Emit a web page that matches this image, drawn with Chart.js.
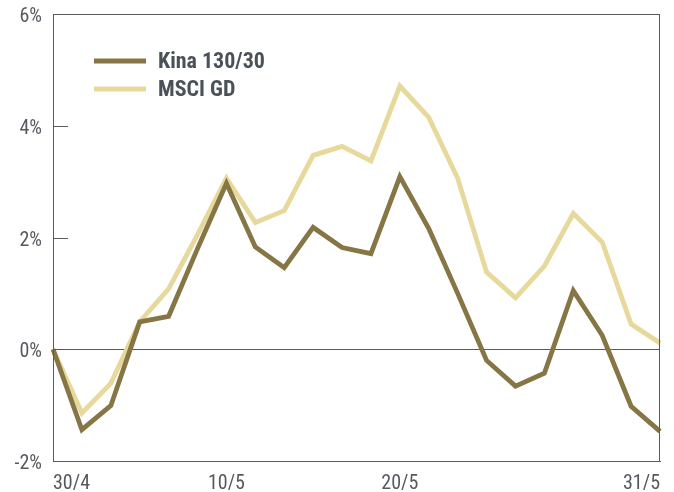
<!DOCTYPE html>
<html>
<head>
<meta charset="utf-8">
<script src="https://cdn.jsdelivr.net/npm/chart.js@4/dist/chart.umd.min.js"></script>
<style>
  html, body { margin: 0; padding: 0; background: #fff; }
  #wrap { width: 674px; height: 492px; }
</style>
</head>
<body>
<div id="wrap"><canvas id="chart" width="674" height="492"></canvas></div>
<script>
const dates = ['30/4', '3/5', '4/5', '5/5', '6/5', '7/5', '10/5', '11/5', '12/5', '13/5', '14/5',
               '17/5', '20/5', '21/5', '24/5', '25/5', '26/5', '27/5', '28/5', '29/5', '30/5', '31/5'];
const shownDates = ['30/4', '10/5', '20/5', '31/5'];
const kina = [0, -1.44, -1.01, 0.49, 0.59, 1.8, 2.97, 1.83, 1.46, 2.18, 1.82, 1.71,
              3.09, 2.16, 1.0, -0.2, -0.66, -0.43, 1.05, 0.25, -1.02, -1.47];
const msci = [0, -1.14, -0.61, 0.49, 1.08, 2.05, 3.06, 2.27, 2.48, 3.47, 3.63, 3.37,
              4.71, 4.15, 3.06, 1.38, 0.92, 1.49, 2.43, 1.92, 0.45, 0.11];
const yTicks = [-2, 0, 2, 4, 6];

const darkColor = '#877645';
const lightColor = '#e7d99b';
const axisColor = '#5a5a5a';
const labelFont = "'Roboto Condensed', sans-serif";

// frame, short inner tick marks and legend inside the plot
const extras = {
    id: 'extras',
    afterDraw(chart) {
        const ctx = chart.ctx;
        const area = chart.chartArea;
        const y = chart.scales.y;
        ctx.save();
        ctx.strokeStyle = axisColor;
        ctx.lineWidth = 1;
        ctx.strokeRect(area.left + 0.5, area.top + 0.5, area.right - area.left - 1, area.bottom - area.top);
        yTicks.forEach(v => {
            const py = Math.round(y.getPixelForValue(v)) + 0.5;
            ctx.beginPath();
            ctx.moveTo(area.left, py);
            ctx.lineTo(area.left + 15, py);
            ctx.stroke();
        });
        chart.data.datasets.forEach((ds, i) => {
            const ly = 61 + i * 28;
            ctx.strokeStyle = ds.borderColor;
            ctx.lineWidth = 5;
            ctx.beginPath();
            ctx.moveTo(94, ly);
            ctx.lineTo(146, ly);
            ctx.stroke();
            ctx.fillStyle = '#4a5159';
            ctx.font = "bold 22px " + labelFont;
            ctx.textBaseline = 'middle';
            ctx.fillText(ds.label, 158, ly + 1);
        });
        ctx.restore();
    }
};

new Chart(document.getElementById('chart'), {
    type: 'line',
    data: {
        labels: dates,
        datasets: [
            { label: 'Kina 130/30', data: kina, borderColor: darkColor, borderWidth: 4.8, pointRadius: 0, tension: 0, order: 1 },
            { label: 'MSCI GD', data: msci, borderColor: lightColor, borderWidth: 4.8, pointRadius: 0, tension: 0, order: 2 }
        ]
    },
    options: {
        responsive: false,
        animation: false,
        layout: { padding: { top: 14, right: 14, bottom: 0, left: 0 } },
        plugins: { legend: { display: false }, tooltip: { enabled: false } },
        scales: {
            x: {
                grid: { display: false, drawTicks: false },
                border: { display: true, color: axisColor },
                afterFit(scale) { scale.height = 31; },
                ticks: {
                    autoSkip: false,
                    maxRotation: 0,
                    align: 'inner',
                    padding: 11,
                    color: '#555a60',
                    font: { family: labelFont, size: 20 },
                    callback(value) {
                        const d = dates[value];
                        return shownDates.includes(d) ? d : '';
                    }
                }
            },
            y: {
                min: -2,
                max: 6,
                afterFit(scale) { scale.width = 53; },
                afterBuildTicks(scale) { scale.ticks = yTicks.map(v => ({ value: v })); },
                grid: {
                    drawTicks: false,
                    color: ctx => ctx.tick && ctx.tick.value === 0 ? axisColor : 'rgba(0,0,0,0)'
                },
                border: { display: true, color: axisColor },
                ticks: {
                    padding: 11,
                    labelOffset: 3,
                    color: '#555a60',
                    font: { family: labelFont, size: 20, lineHeight: 0.2 },
                    callback: v => v + '%'
                }
            }
        }
    },
    plugins: [extras]
});
</script>
</body>
</html>
